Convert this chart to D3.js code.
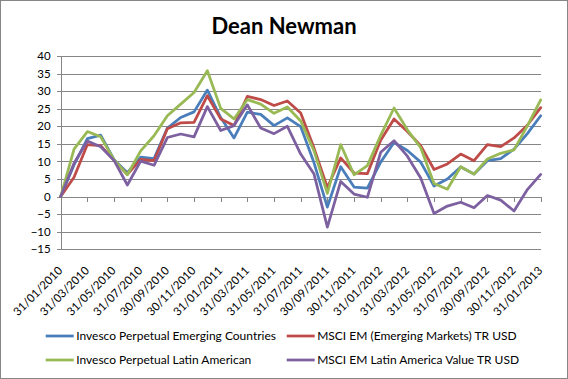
<!DOCTYPE html>
<html><head><meta charset="utf-8">
<script src="https://cdn.jsdelivr.net/npm/d3@7"></script>
<style>
html,body{margin:0;padding:0;background:#fff;}
svg{display:block;}
text{font-family:Lato,"Liberation Sans",sans-serif;}
</style></head>
<body>
<script>
const title = "Dean Newman";
const categories = ["31/01/2010","28/02/2010","31/03/2010","30/04/2010","31/05/2010","30/06/2010","31/07/2010","31/08/2010","30/09/2010","31/10/2010","30/11/2010","31/12/2010","31/01/2011","28/02/2011","31/03/2011","30/04/2011","31/05/2011","30/06/2011","31/07/2011","31/08/2011","30/09/2011","31/10/2011","30/11/2011","31/12/2011","31/01/2012","29/02/2012","31/03/2012","30/04/2012","31/05/2012","30/06/2012","31/07/2012","31/08/2012","30/09/2012","31/10/2012","30/11/2012","31/12/2012","31/01/2013"];
const seriesNames = ["Invesco Perpetual Emerging Countries","MSCI EM (Emerging Markets) TR USD","Invesco Perpetual Latin American","MSCI EM Latin America Value TR USD"];
const emergingCountries = [0,9,16.5,17.5,10.5,6.8,11.2,10.8,19.5,22.5,24.1,30.3,22.5,16.7,24.0,23.4,20.2,22.4,19.9,9.6,-3.0,8.5,2.7,2.4,9.8,15.4,13.1,9.8,3.0,5.0,8.4,6.4,10.2,10.8,13.5,17.9,23.0];
const msciEM = [0,5.5,14.8,14.5,10.3,6.3,10.6,10.2,19.3,21.0,21.1,28.7,22.1,20.2,28.5,27.6,25.9,27.2,23.8,13.8,2.6,11.0,6.7,6.5,16.0,22.1,18.5,14.5,7.7,9.3,12.1,10.2,14.8,14.2,16.7,20.3,25.3];
const latinAmerican = [0,13.5,18.5,17.0,10.5,6.2,13.0,17.3,23.0,26.3,29.6,35.8,25.1,22.1,27.6,26.3,23.7,25.5,21.5,13.0,0.9,14.8,6.2,8.8,17.4,25.2,19.0,13.9,3.7,2.1,8.5,6.4,10.7,12.3,13.3,20.1,27.5];
const latamValue = [0,9.5,15.8,14.2,10.3,3.3,10.1,8.9,16.8,17.8,17.0,25.6,18.8,20.2,26.1,19.5,17.9,20.0,12.1,6.4,-8.7,4.3,0.7,-0.2,12.6,15.9,11.5,5.3,-4.8,-2.7,-1.6,-3.2,0.3,-1.0,-4.1,2.0,6.3];
const yTicks = [-15,-10,-5,0,5,10,15,20,25,30,35,40];
const colors = ["#4A7EBB","#BE4B48","#98B954","#7D60A0"];

const seriesValues = [emergingCountries, msciEM, latinAmerican, latamValue];
const W = 568, H = 379;
const L = 60.7, R = 540.7, T = 56, B = 249.3;

const svg = d3.select("body").append("svg").attr("width", W).attr("height", H);
svg.append("rect").attr("x",0.5).attr("y",0.5).attr("width",W-1).attr("height",H-1)
  .attr("fill","#fff").attr("stroke","#868686").attr("stroke-width",1);

svg.append("text").attr("x", 284).attr("y", 34).attr("text-anchor","middle")
  .attr("font-size", 22).attr("font-weight","bold").attr("fill","#000").text(title);

const x = d3.scalePoint().domain(categories).range([L, R]);
const y = d3.scaleLinear().domain([-15, 40]).range([B, T]);

// gridlines
const grid = svg.append("g").attr("transform", `translate(${L},0)`)
  .call(d3.axisLeft(y).tickValues(yTicks).tickSize(-(R - L)).tickFormat(""));
grid.select(".domain").remove();
grid.selectAll("line").attr("stroke","#868686").attr("stroke-width",1).attr("shape-rendering","crispEdges");

// y axis
const yAx = svg.append("g").attr("transform", `translate(${L},0)`)
  .call(d3.axisLeft(y).tickValues(yTicks).tickSize(4).tickSizeOuter(0).tickPadding(6));
yAx.select(".domain").attr("stroke","#868686").attr("shape-rendering","crispEdges");
yAx.selectAll("line").attr("stroke","#868686").attr("shape-rendering","crispEdges");
yAx.selectAll("text").attr("font-size", 11.5).attr("fill","#000").attr("font-family","Lato,sans-serif");

const labelCats = categories.filter((d,i) => i % 2 === 0);

// x axis at zero
const xAx = svg.append("g").attr("transform", `translate(0,${y(0)})`)
  .call(d3.axisBottom(x).tickValues(labelCats).tickSize(5).tickSizeOuter(0).tickFormat(""));
xAx.select(".domain").attr("stroke","#868686").attr("shape-rendering","crispEdges");
xAx.selectAll("line").attr("stroke","#868686").attr("shape-rendering","crispEdges");

// x labels at bottom
const xLab = svg.append("g").attr("transform", `translate(0,${B})`)
  .call(d3.axisBottom(x).tickValues(labelCats).tickSize(0));
xLab.select(".domain").remove();
xLab.selectAll("text")
  .attr("font-size", 11.5).attr("fill","#000").attr("font-family","Lato,sans-serif")
  .attr("text-anchor","end")
  .attr("transform","translate(2,22) rotate(-45)")
  .attr("dy","0").attr("y",0).attr("x",0);

// lines
const line = d3.line().x((d,i) => x(categories[i])).y(d => y(d));
seriesValues.forEach((vals, k) => {
  svg.append("path").datum(vals).attr("d", line).attr("fill","none")
    .attr("stroke", colors[k]).attr("stroke-width", 2.75).attr("stroke-linejoin","round").attr("stroke-linecap","round");
});

// legend
const legPos = [[45.7,336],[286.7,336],[45.7,360],[286.7,360]];
seriesNames.forEach((n,k) => {
  const g = svg.append("g").attr("transform", `translate(${legPos[k][0]},${legPos[k][1]})`);
  g.append("line").attr("x1",0).attr("x2",28).attr("y1",0).attr("y2",0)
    .attr("stroke", colors[k]).attr("stroke-width", 2.75);
  g.append("text").attr("x",30.5).attr("y",0).attr("dy","0.35em").attr("font-size",12).attr("fill","#000").text(n);
});
</script>
</body></html>
